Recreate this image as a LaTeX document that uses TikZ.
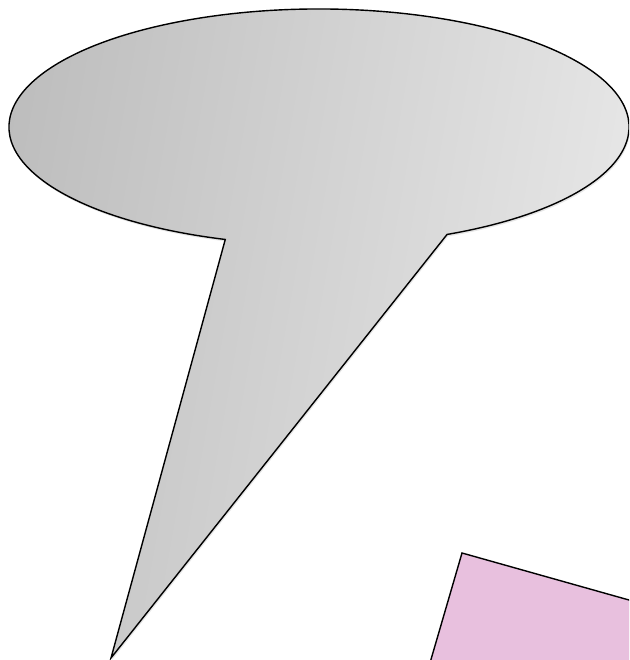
\documentclass[tikz,border=0pt]{standalone}
\usetikzlibrary{shadows}
\begin{document}
\begin{tikzpicture}[x=1pt,y=1pt,
  outline/.style={draw=black,line width=1.4pt,line join=miter},
  softshadow/.style={drop shadow={opacity=0.2,shadow xshift=1pt,shadow yshift=-2pt}},
  bubble/.style={outline,softshadow,left color=black!26,right color=black!8,shading=axis,shading angle=80},
  card/.style={outline,softshadow,fill=pinkfill}]
\definecolor{pinkfill}{RGB}{232,192,222}
\useasboundingbox (0,0) rectangle (629,660);
\clip (0,0) rectangle (629,660);
% speech bubble
\path[bubble] (319,533) ++(-65.6:310 and 118)
  arc[start angle=-65.6,end angle=252.4,x radius=310,y radius=118]
  -- (111,2) -- cycle;
% pink card
\path[card] (462,107) -- (700,40) -- (700,-20) -- (425,-20) -- cycle;
\end{tikzpicture}
\end{document}
